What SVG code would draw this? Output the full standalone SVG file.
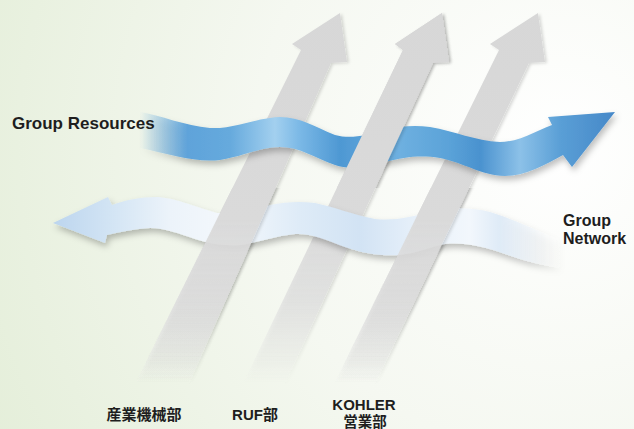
<svg xmlns="http://www.w3.org/2000/svg" xmlns:xlink="http://www.w3.org/1999/xlink" width="634" height="429" viewBox="0 0 634 429">
<style>
.lbl{font-family:"Liberation Sans","Noto Sans CJK JP",sans-serif;font-weight:bold;fill:#1e1e1e}
.arrow{fill:url(#grayFade);filter:url(#arrowShadow)}
</style>
<defs>
<radialGradient id="bg" cx="560" cy="150" r="680" gradientUnits="userSpaceOnUse">
<stop offset="0" stop-color="#ffffff"/>
<stop offset="0.45" stop-color="#f5f8f1"/>
<stop offset="1" stop-color="#e2edd6"/>
</radialGradient>
<linearGradient id="grayFade" x1="0" y1="0" x2="0" y2="400" gradientUnits="userSpaceOnUse">
<stop offset="0" stop-color="#d7d7d7"/>
<stop offset="0.55" stop-color="#dadada"/>
<stop offset="0.75" stop-color="#dedede" stop-opacity="0.75"/>
<stop offset="0.96" stop-color="#e6e6e6" stop-opacity="0"/>
</linearGradient>
<linearGradient id="blueGrad" x1="140" y1="0" x2="615" y2="0" gradientUnits="userSpaceOnUse">
<stop offset="0" stop-color="#6aaee0" stop-opacity="0"/>
<stop offset="0.1" stop-color="#5fa3da" stop-opacity="1"/>
<stop offset="0.19" stop-color="#66aadd"/>
<stop offset="0.284" stop-color="#a3d0ef"/>
<stop offset="0.337" stop-color="#7ab8e6"/>
<stop offset="0.421" stop-color="#4e98d3"/>
<stop offset="0.547" stop-color="#6eb0e0"/>
<stop offset="0.653" stop-color="#5aa2d8"/>
<stop offset="0.716" stop-color="#4a92cf"/>
<stop offset="0.8" stop-color="#8cc1e8"/>
<stop offset="0.884" stop-color="#5a9fd6"/>
<stop offset="1" stop-color="#4688c8"/>
</linearGradient>
<linearGradient id="netGrad" x1="53" y1="0" x2="560" y2="0" gradientUnits="userSpaceOnUse">
<stop offset="0" stop-color="#bcd5ee"/>
<stop offset="0.112" stop-color="#d2e4f4"/>
<stop offset="0.23" stop-color="#ecf3fa"/>
<stop offset="0.35" stop-color="#f4f8fc"/>
<stop offset="0.487" stop-color="#deebf7"/>
<stop offset="0.605" stop-color="#d2e3f4"/>
<stop offset="0.724" stop-color="#e8f1fa"/>
<stop offset="0.822" stop-color="#f2f7fc"/>
<stop offset="0.88" stop-color="#dfebf7"/>
<stop offset="0.94" stop-color="#eef4fa" stop-opacity="0.7"/>
<stop offset="1" stop-color="#ffffff" stop-opacity="0"/>
</linearGradient>
<filter id="arrowShadow" x="-20%" y="-10%" width="140%" height="120%">
<feDropShadow dx="2" dy="1" stdDeviation="1.5" flood-color="#000" flood-opacity="0.15"/>
</filter>
<filter id="bandShadow" x="-10%" y="-30%" width="120%" height="170%">
<feDropShadow dx="2" dy="4" stdDeviation="3" flood-color="#000" flood-opacity="0.25"/>
</filter>
<clipPath id="clipUpper"><rect x="0" y="0" width="634" height="188"/></clipPath>
<clipPath id="clipLower"><rect x="0" y="188" width="634" height="241"/></clipPath>
<path id="a1" d="M340,13 L347,62 L331,63 L186,390 L132,390 L301,50 L292,44 Z"/>
<path id="a2" d="M442,13 L449,62 L433,63 L282,390 L240,390 L403,50 L395,44 Z"/>
<path id="a3" d="M538,13 L545,62 L529,63 L372,390 L331,390 L499,50 L490,44 Z"/>
</defs>
<rect id="background" x="0" y="0" width="634" height="429" fill="url(#bg)"/>
<g id="arrow-sangyo">
<use href="#a1" class="arrow"/>
<text class="lbl" x="144" y="420" font-size="15" text-anchor="middle">産業機械部</text>
</g>
<g id="arrow-ruf">
<use href="#a2" class="arrow"/>
<text class="lbl" x="255" y="420" font-size="15" text-anchor="middle">RUF部</text>
</g>
<g id="arrow-kohler">
<use href="#a3" class="arrow"/>
<text class="lbl" x="364" y="410" font-size="15" text-anchor="middle">KOHLER</text>
<text class="lbl" x="365" y="427" font-size="14.5" text-anchor="middle">営業部</text>
</g>
<g id="band-resources">
<path fill="url(#blueGrad)" filter="url(#bandShadow)" d="M140,112 C160,115 185,126 210,128 C235,129 255,118 280,117 C300,117 315,127 335,135 C350,139 365,136 385,130 C400,126 415,125 430,127 C455,131 475,141 500,142 C520,142 535,131 552,125 L548,117 L615,112 L572,167 L563,155 C545,165 525,176 505,176 C480,175 465,163 440,158 C420,155 405,157 385,162 C365,167 350,170 335,165 C315,158 300,147 280,147 C260,147 245,156 220,160 C195,163 170,154 140,148 Z"/>
<text class="lbl" x="12" y="129" font-size="17">Group Resources</text>
</g>
<g id="weave-upper">
<use href="#a2" class="arrow" clip-path="url(#clipUpper)"/>
</g>
<g id="band-network">
<path fill="url(#netGrad)" filter="url(#bandShadow)" d="M53,223 L108,197 L112,205 C125,200 140,197 157,197 C175,198 190,205 217,213 C235,214 250,209 270,205 C285,202 300,201 315,203 C335,207 350,214 375,219 C395,221 410,217 430,212 C450,207 470,207 490,212 C510,218 530,227 560,240 L560,268 C540,265 525,261 505,254 C485,247 465,242 445,244 C430,247 420,252 400,255 C380,256 365,254 345,247 C325,239 310,233 295,234 C275,236 260,242 240,245 C225,246 210,244 195,239 C180,234 165,228 150,228 C135,229 120,232 107,235 L105,243 Z"/>
<text class="lbl" x="563" y="226" font-size="16">Group</text>
<text class="lbl" x="563" y="244" font-size="16">Network</text>
</g>
<g id="weave-lower">
<use href="#a1" class="arrow" clip-path="url(#clipLower)"/>
<use href="#a3" class="arrow" clip-path="url(#clipLower)"/>
</g>
</svg>
